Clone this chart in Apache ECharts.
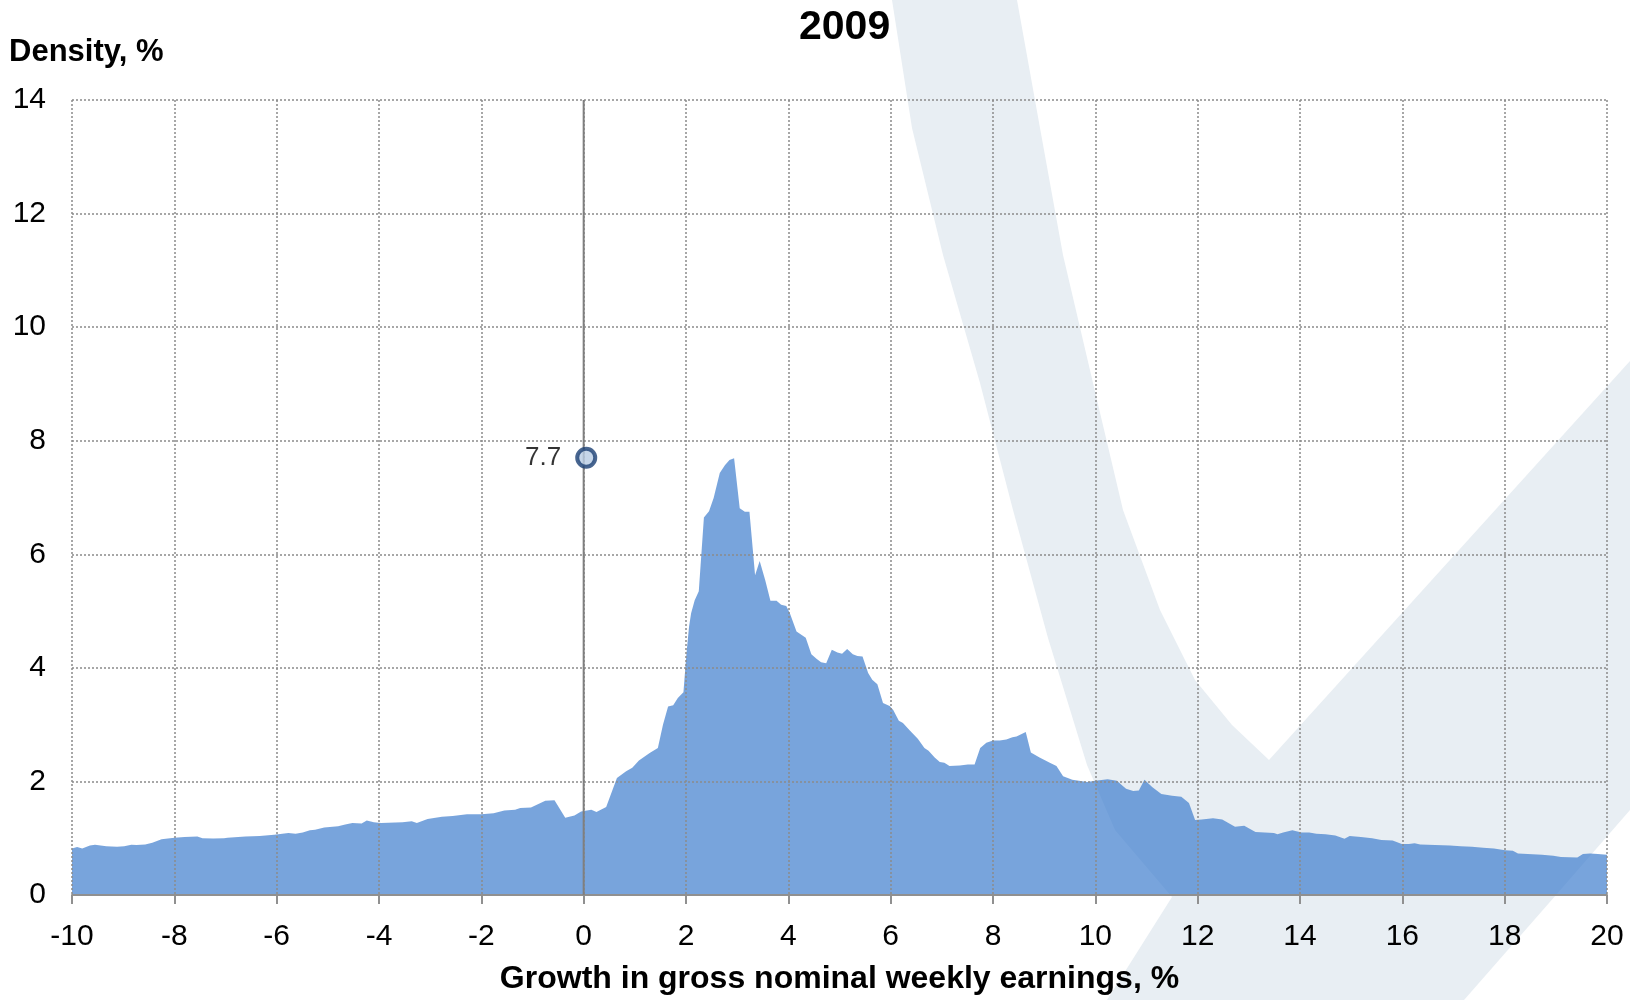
<!DOCTYPE html>
<html>
<head>
<meta charset="utf-8">
<script src="https://cdn.jsdelivr.net/npm/echarts@6/dist/echarts.min.js"></script>
<style>
  html, body { margin: 0; padding: 0; background: #fff; }
  #container { width: 1630px; height: 1000px; }
</style>
</head>
<body>
<div id="container"></div>
<script>
// growth in gross nominal weekly earnings, % (x) and density, % (y)
var growthPct = [
  -10.0, -9.9, -9.8, -9.65, -9.55, -9.33, -9.12, -8.98, -8.84, -8.74,
  -8.57, -8.43, -8.25, -8.0, -7.8, -7.55, -7.45, -7.24, -7.03, -6.96,
  -6.61, -6.33, -6.05, -5.77, -5.63, -5.49, -5.35, -5.25, -5.07, -4.8,
  -4.66, -4.52, -4.34, -4.24, -4.1, -3.96, -3.54, -3.36, -3.26, -3.05,
  -2.77, -2.56, -2.28, -2.0, -1.76, -1.55, -1.34, -1.24, -1.03, -0.75,
  -0.57, -0.36, -0.18, -0.05, 0.15, 0.25, 0.44, 0.65, 0.83, 0.95,
  1.08, 1.29, 1.45, 1.55, 1.65, 1.75, 1.84, 1.95, 2.01, 2.06,
  2.1, 2.17, 2.25, 2.35, 2.45, 2.54, 2.66, 2.76, 2.85, 2.94,
  3.05, 3.15, 3.24, 3.35, 3.44, 3.55, 3.65, 3.77, 3.86, 3.96,
  4.03, 4.16, 4.34, 4.45, 4.55, 4.64, 4.74, 4.85, 4.96, 5.05,
  5.15, 5.26, 5.35, 5.45, 5.56, 5.64, 5.74, 5.85, 5.98, 6.05,
  6.16, 6.24, 6.37, 6.53, 6.66, 6.74, 6.86, 6.96, 7.05, 7.15,
  7.35, 7.51, 7.64, 7.75, 7.87, 8.0, 8.13, 8.26, 8.38, 8.46,
  8.64, 8.74, 8.91, 9.11, 9.24, 9.37, 9.55, 9.84, 10.0, 10.24,
  10.42, 10.6, 10.74, 10.85, 10.96, 11.11, 11.29, 11.5, 11.68, 11.83,
  11.95, 12.08, 12.3, 12.48, 12.73, 12.91, 13.13, 13.31, 13.49, 13.56,
  13.67, 13.85, 14.03, 14.18, 14.32, 14.5, 14.69, 14.87, 14.97, 15.19,
  15.41, 15.59, 15.81, 15.99, 16.13, 16.24, 16.35, 16.64, 16.93, 17.14,
  17.36, 17.58, 17.79, 18.01, 18.16, 18.26, 18.45, 18.73, 18.95, 19.1,
  19.42, 19.53, 19.67, 19.82, 20.0
];
var densityPct = [
  0.82, 0.845, 0.82, 0.87, 0.886, 0.86, 0.85, 0.86, 0.886, 0.88,
  0.89, 0.92, 0.98, 1.01, 1.02, 1.03, 1.0, 0.995, 1.0, 1.01,
  1.03, 1.04, 1.06, 1.09, 1.08, 1.1, 1.14, 1.15, 1.19, 1.21,
  1.24, 1.27, 1.26, 1.31, 1.28, 1.27, 1.28, 1.3, 1.27, 1.34,
  1.38, 1.39, 1.42, 1.42, 1.44, 1.49, 1.5, 1.53, 1.54, 1.66,
  1.67, 1.36, 1.4, 1.47, 1.5, 1.46, 1.55, 2.06, 2.18, 2.24,
  2.37, 2.5, 2.59, 3.0, 3.32, 3.34, 3.47, 3.57, 4.26, 4.73,
  4.96, 5.19, 5.35, 6.65, 6.76, 6.99, 7.43, 7.57, 7.66, 7.69,
  6.81, 6.75, 6.75, 5.63, 5.88, 5.54, 5.18, 5.18, 5.11, 5.09,
  4.96, 4.64, 4.53, 4.24, 4.16, 4.1, 4.08, 4.32, 4.27, 4.25,
  4.33, 4.24, 4.21, 4.2, 3.91, 3.79, 3.71, 3.38, 3.33, 3.26,
  3.07, 3.03, 2.9, 2.75, 2.59, 2.54, 2.42, 2.34, 2.33, 2.27,
  2.28, 2.3, 2.3, 2.59, 2.68, 2.72, 2.72, 2.74, 2.78, 2.79,
  2.87, 2.51, 2.42, 2.33, 2.27, 2.09, 2.03, 1.99, 2.01, 2.04,
  2.01, 1.87, 1.83, 1.84, 2.03, 1.9, 1.78, 1.75, 1.73, 1.62,
  1.32, 1.33, 1.35, 1.33, 1.2, 1.22, 1.11, 1.1, 1.09, 1.07,
  1.1, 1.14, 1.1, 1.1, 1.08, 1.07, 1.05, 0.99, 1.04, 1.02,
  1.0, 0.97, 0.96, 0.9, 0.9, 0.91, 0.89, 0.88, 0.87, 0.86,
  0.85, 0.83, 0.82, 0.79, 0.78, 0.73, 0.72, 0.71, 0.69, 0.67,
  0.66, 0.72, 0.73, 0.72, 0.71
];
// highlighted point (share of zero growth)
var markerX = [0.05];
var markerY = [7.7];
var zeroLineX = [0, 0];
var zeroLineY = [0, 14];

var densityData = growthPct.map(function (x, i) { return [x, densityPct[i]]; });
var markerData = markerX.map(function (x, i) { return [x, markerY[i]]; });
var zeroLineData = zeroLineX.map(function (x, i) { return [x, zeroLineY[i]]; });

var dom = document.getElementById('container');
var myChart = echarts.init(dom, null, { renderer: 'canvas' });

var fontFamily = '"Liberation Sans", Arial, sans-serif';
var gridLine = { show: true, lineStyle: { color: '#8a8a8a', width: 1.5, type: [2, 2] } };

var option = {
  backgroundColor: '#fff',
  textStyle: { fontFamily: fontFamily },
  title: [
    {
      text: '2009', left: 794, top: 2,
      textStyle: { fontSize: 41, fontWeight: 'bold', color: '#000', fontFamily: fontFamily }
    },
    {
      text: 'Density, %', left: 4, top: 32,
      textStyle: { fontSize: 31, fontWeight: 'bold', color: '#000', fontFamily: fontFamily }
    }
  ],
  // light "V" watermark behind the plot
  graphic: {
    elements: [
      {
        type: 'polygon', z: -20, silent: true,
        shape: {
          points: [
            [892, 0], [1017, 0], [1040, 128], [1063, 255], [1093, 383], [1123, 510],
            [1160, 610], [1195, 680], [1232, 725], [1269, 760], [1630, 361],
            [1630, 810], [1549, 903], [1464, 1000], [1107, 1000], [1172, 897],
            [1115, 830], [1087, 765], [1048, 638], [1013, 510], [980, 383],
            [943, 255], [912, 128]
          ]
        },
        style: { fill: '#e8eef3' }
      }
    ]
  },
  grid: { left: 72, right: 23, top: 100, bottom: 104, containLabel: false },
  xAxis: {
    type: 'value', min: -10, max: 20, interval: 2,
    name: 'Growth in gross nominal weekly earnings, %',
    nameLocation: 'middle', nameGap: 68,
    nameTextStyle: { fontSize: 32, fontWeight: 'bold', color: '#000', fontFamily: fontFamily },
    axisLine: { show: true, lineStyle: { color: '#909090', width: 2 } },
    axisTick: { show: true, length: 9, lineStyle: { color: '#909090', width: 2 } },
    axisLabel: { fontSize: 30, color: '#000', margin: 27, fontFamily: fontFamily },
    splitLine: gridLine
  },
  yAxis: {
    type: 'value', min: 0, max: 14, interval: 2,
    axisLine: { show: false },
    axisTick: { show: false },
    axisLabel: { fontSize: 30, color: '#000', margin: 26, fontFamily: fontFamily },
    splitLine: gridLine
  },
  series: [
    {
      name: 'Density',
      type: 'line',
      z: -5,
      data: densityData,
      showSymbol: false,
      symbol: 'none',
      sampling: 'none',
      lineStyle: { width: 0 },
      areaStyle: { color: 'rgb(62,125,205)', opacity: 0.7 },
      silent: true
    },
    {
      name: 'Zero',
      type: 'line',
      z: 3,
      data: zeroLineData,
      symbol: 'none',
      lineStyle: { color: '#7f7f7f', width: 2 },
      silent: true
    },
    {
      name: 'Zero growth share',
      type: 'scatter',
      z: 4,
      data: markerData,
      symbol: 'circle',
      symbolSize: 18,
      itemStyle: { color: '#b8cce4', borderColor: '#1a3f73', borderWidth: 4 },
      label: {
        show: true, position: 'left', distance: 14,
        formatter: function (p) { return p.value[1].toFixed(1); },
        fontSize: 26, color: '#000', fontFamily: fontFamily
      }
    }
  ]
};

if (option && typeof option === 'object') {
  myChart.setOption(option);
}

window.addEventListener('resize', myChart.resize);
</script>
</body>
</html>
